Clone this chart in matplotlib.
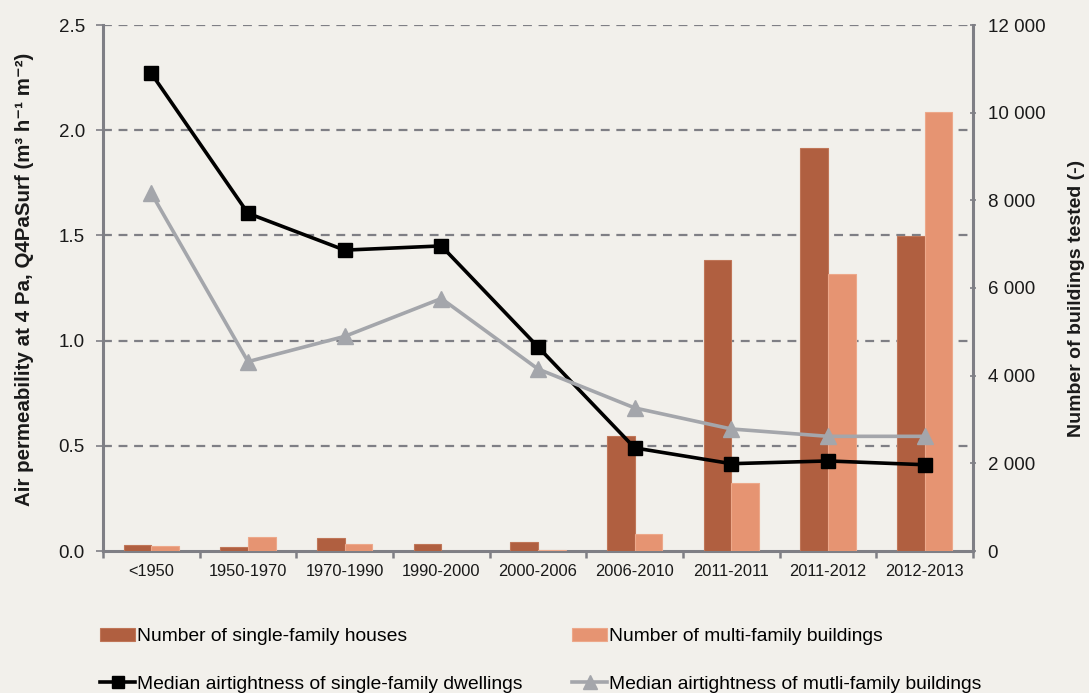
import matplotlib
matplotlib.use("Agg")
import matplotlib.pyplot as plt

categories = ["<1950", "1950-1970", "1970-1990", "1990-2000", "2000-2006",
              "2006-2010", "2011-2011", "2011-2012", "2012-2013"]
single_family_counts = [140, 100, 300, 160, 200, 2620, 6640, 9190, 7190]
multi_family_counts = [110, 310, 160, 0, 20, 390, 1550, 6320, 10010]
single_family_median = [2.27, 1.605, 1.43, 1.45, 0.97, 0.49, 0.415, 0.428, 0.41]
multi_family_median = [1.70, 0.90, 1.02, 1.20, 0.865, 0.68, 0.58, 0.545, 0.545]

left_ticks = [0.0, 0.5, 1.0, 1.5, 2.0, 2.5]
right_ticks = [0, 2000, 4000, 6000, 8000, 10000, 12000]
right_tick_labels = ["0", "2 000", "4 000", "6 000", "8 000", "10 000", "12 000"]

BG = "#F2F0EB"
DARK = "#B05F40"
LIGHT = "#E69472"
AXC = "#7F7F85"
TXT = "#1a1a1a"
FONT = ["Liberation Sans", "DejaVu Sans"]

plt.rcParams["font.family"] = FONT

fig = plt.figure(figsize=(10.89, 6.93), dpi=100, facecolor=BG)
rect = [103 / 1089, 1 - 551 / 693, (973 - 103) / 1089, (551 - 25) / 693]

ax1 = fig.add_axes(rect)
ax1.set_facecolor(BG)
ax1.set_zorder(1)
x = list(range(len(categories)))
ax1.set_xlim(-0.5, len(categories) - 0.5)
ax1.set_ylim(0, 2.5)
ax1.set_yticks(left_ticks)
ax1.set_yticklabels([f"{v:.1f}" for v in left_ticks], fontsize=13.5, color=TXT)
for v in left_ticks[1:]:
    ax1.axhline(v, color=AXC, lw=1.6, ls=(0, (4, 3)), zorder=0)
ax1.set_xticks([i - 0.5 for i in range(len(categories) + 1)])
ax1.set_xticklabels([])
ax1.set_xticks(x, minor=True)
ax1.set_xticklabels(categories, minor=True, fontsize=11.8, color=TXT)
ax1.tick_params(axis="x", which="minor", length=0, pad=9)
ax1.tick_params(axis="x", which="major", length=5, width=1.8, color=AXC, direction="out")
ax1.tick_params(axis="y", length=5, width=1.2, color=AXC, direction="out", pad=8)
for s in ["top", "right"]:
    ax1.spines[s].set_visible(False)
for s in ["left", "bottom"]:
    ax1.spines[s].set_color(AXC)
    ax1.spines[s].set_linewidth(2.2)
ax1.set_ylabel("Air permeability at 4 Pa, Q4PaSurf (m³ h⁻¹ m⁻²)", fontsize=14.8,
               fontweight="bold", color=TXT)
ax1.yaxis.set_label_coords(-(103 - 34) / 870, 0.517)

ax2 = ax1.twinx()
ax2.set_zorder(2)
ax2.patch.set_visible(False)
ax2.set_ylim(0, 12000)
w = 0.285
b1 = ax2.bar([i - w for i in x], single_family_counts, width=w, align="edge",
             color=DARK, edgecolor="#C07658", linewidth=0.8, label="Number of single-family houses")
b2 = ax2.bar(x, multi_family_counts, width=w, align="edge",
             color=LIGHT, edgecolor="#EDA88A", linewidth=0.8, label="Number of multi-family buildings")
ax2.set_yticks(right_ticks)
ax2.set_yticklabels(right_tick_labels, fontsize=13.5, color=TXT)
ax2.tick_params(axis="y", length=5, width=1.2, color=AXC, direction="inout", pad=8)
for s in ["top", "left", "bottom"]:
    ax2.spines[s].set_visible(False)
ax2.spines["right"].set_color(AXC)
ax2.spines["right"].set_linewidth(2.2)
ax2.set_ylabel("Number of buildings tested (-)", fontsize=14, fontweight="bold", color=TXT)
ax2.yaxis.set_label_coords(1 + (1068 - 973) / 870, 0.481)

ax3 = fig.add_axes(rect, sharex=ax1, sharey=ax1)
ax3.set_zorder(3)
ax3.axis("off")
ax3.patch.set_visible(False)
l1, = ax3.plot(x, single_family_median, color="black", lw=2.6, marker="s", ms=10,
               label="Median airtightness of single-family dwellings")
l2, = ax3.plot(x, multi_family_median, color="#A4A6AB", lw=2.6, marker="^", ms=12,
               label="Median airtightness of mutli-family buildings")

leg_kw = dict(frameon=False, fontsize=13.85, handlelength=1.82, handletextpad=0.1,
              labelspacing=1.56, borderpad=0, borderaxespad=0, loc="upper left",
              markerscale=0.8)
fig.legend(handles=[b1, l1], bbox_to_anchor=(100 / 1089, 1 - 628 / 693), **leg_kw)
fig.legend(handles=[b2, l2], bbox_to_anchor=(572 / 1089, 1 - 628 / 693), **leg_kw)

fig.savefig("out.png", dpi=100, facecolor=BG)
